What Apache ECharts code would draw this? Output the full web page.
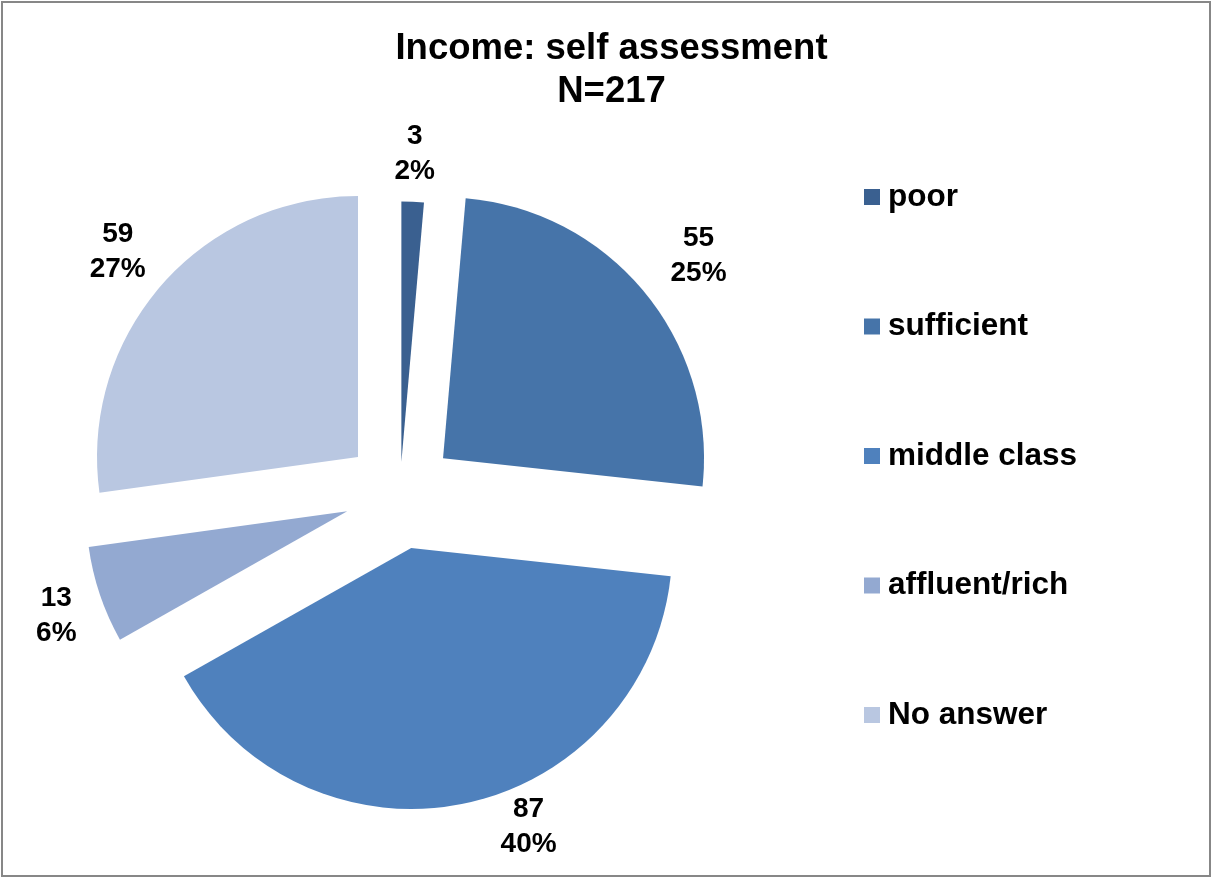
<!DOCTYPE html>
<html>
<head>
<meta charset="utf-8">
<script src="https://cdn.jsdelivr.net/npm/echarts@6/dist/echarts.min.js"></script>
<style>
  html, body { margin: 0; padding: 0; background: #ffffff; }
  #chart { width: 1212px; height: 878px; }
</style>
</head>
<body>
<div id="chart"></div>
<script>
// Survey answers: how respondents rate their own income
const categories = ['poor', 'sufficient', 'middle class', 'affluent/rich', 'No answer'];
const counts = [3, 55, 87, 13, 59];
const titleLines = ['Income: self assessment', 'N=217'];

// Slice fills, dark to light blue
const sliceColors = ['#3A6090', '#4674A9', '#4F81BD', '#93A9D1', '#B9C7E1'];
// Label placement: radial distance past the rim, then horizontal run
const labelRadial = [23, 58, 24, 64, 51];
const labelRun = [0, 9, 60, -17, 5];

const FONT = '"Liberation Sans", Arial, Helvetica, sans-serif';
const total = counts.reduce((a, b) => a + b, 0);
const PIE_CENTER = [400, 493.5];
const PIE_RADIUS = 261;

// Main ring: every slice pulled out; the thin "poor" wedge is drawn by its own
// series with a smaller pull, so here it only carries the label.
const mainData = categories.map((name, i) => ({
  name: name,
  value: counts[i],
  selected: true,
  itemStyle: { color: i === 0 ? 'rgba(0,0,0,0)' : sliceColors[i] },
  labelLine: { show: false, length: labelRadial[i], length2: labelRun[i] }
}));

const poorData = [
  { name: categories[0], value: counts[0], selected: true,
    itemStyle: { color: sliceColors[0] } },
  { name: 'rest', value: total - counts[0],
    itemStyle: { color: 'rgba(0,0,0,0)' } }
];

const chart = echarts.init(document.getElementById('chart'), null, { renderer: 'canvas' });
chart.setOption({
  animation: false,
  backgroundColor: '#ffffff',
  title: {
    text: titleLines.join('\n'),
    left: 611.5,
    top: 27,
    textAlign: 'center',
    padding: 0,
    textStyle: { fontFamily: FONT, fontSize: 36.5, fontWeight: 'bold', color: '#000000', lineHeight: 43 }
  },
  legend: {
    orient: 'vertical',
    left: 859,
    top: 176,
    icon: 'rect',
    itemWidth: 16,
    itemHeight: 16,
    itemGap: 97.5,
    selectedMode: false,
    data: categories.map((name, i) => ({ name: name, itemStyle: { color: sliceColors[i] } })),
    textStyle: { fontFamily: FONT, fontSize: 31.5, fontWeight: 'bold', color: '#000000', lineHeight: 32, padding: [0, 0, 0, 3] }
  },
  graphic: [{
    type: 'rect',
    shape: { x: 2, y: 2, width: 1208, height: 874 },
    style: { fill: 'none', stroke: '#878787', lineWidth: 2 },
    silent: true
  }],
  series: [
    {
      type: 'pie',
      name: 'poor wedge',
      center: PIE_CENTER,
      radius: PIE_RADIUS,
      startAngle: 90,
      clockwise: true,
      selectedMode: 'multiple',
      selectedOffset: 31,
      silent: true,
      avoidLabelOverlap: false,
      emphasis: { disabled: true },
      select: { itemStyle: {} },
      label: { show: false },
      labelLine: { show: false },
      data: poorData
    },
    {
      type: 'pie',
      name: 'Income',
      center: PIE_CENTER,
      radius: PIE_RADIUS,
      startAngle: 90,
      clockwise: true,
      selectedMode: 'multiple',
      selectedOffset: 55.7,
      percentPrecision: 0,
      silent: true,
      avoidLabelOverlap: false,
      emphasis: { disabled: true },
      select: { itemStyle: {} },
      label: {
        show: true,
        position: 'outside',
        formatter: '{c}\n{d}%',
        fontFamily: FONT,
        fontSize: 28,
        fontWeight: 'bold',
        color: '#000000',
        lineHeight: 35,
        distanceToLabelLine: 0
      },
      labelLayout: function () {
        return { align: 'center', verticalAlign: 'middle' };
      },
      data: mainData
    }
  ]
});
</script>
</body>
</html>
